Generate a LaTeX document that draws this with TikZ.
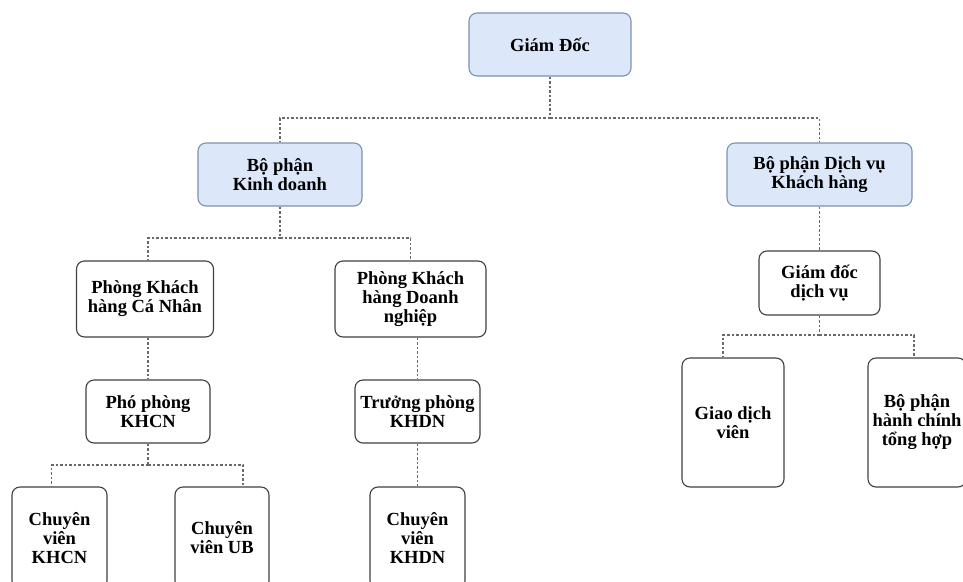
\documentclass[tikz,border=0pt]{standalone}
\usepackage{fontspec}
\setmainfont{Liberation Serif}
\usetikzlibrary{positioning}
\definecolor{headblue}{RGB}{220,232,250}
\definecolor{headline}{RGB}{125,145,175}
\definecolor{linkgray}{RGB}{105,105,105}

\begin{document}
\begin{tikzpicture}[x=1pt,y=-1pt,
  head/.style={rectangle,rounded corners=8pt,draw=headline,fill=headblue,line width=1.1pt,align=center,inner sep=0pt,font=\fontsize{18.5}{19}\selectfont\bfseries},
  unit/.style={rectangle,rounded corners=8pt,draw=black!75,fill=white,line width=1.1pt,align=center,inner sep=0pt,font=\fontsize{18.5}{19}\selectfont\bfseries},
  link/.style={draw=linkgray,line width=1.1pt,dash pattern=on 2.5pt off 2pt}]
  \useasboundingbox (0,0) rectangle (963,581);
  \node[head,minimum width=162pt,minimum height=63pt] (gd) at (550,44.5) {Giám Đốc};
  \node[head,minimum width=164pt,minimum height=63pt] (kd) at (280,174.5) {Bộ phận\\Kinh doanh};
  \node[head,minimum width=185pt,minimum height=63pt] (dv) at (819.5,174.5) {Bộ phận Dịch vụ\\Khách hàng};
  \node[unit,minimum width=121pt,minimum height=64pt] (gddv) at (819.5,283) {Giám đốc\\dịch vụ};
  \node[unit,minimum width=137pt,minimum height=76pt] (kdcn) at (145,299) {Phòng Khách\\hàng Cá Nhân};
  \node[unit,minimum width=151pt,minimum height=76pt] (kddn) at (410.5,299) {Phòng Khách\\hàng Doanh\\nghiệp};
  \node[unit,minimum width=124pt,minimum height=63pt] (ppcn) at (148,411.5) {Phó phòng\\KHCN};
  \node[unit,minimum width=125pt,minimum height=63pt] (tpdn) at (417.5,411.5) {Trưởng phòng\\KHDN};
  \node[unit,minimum width=95pt,minimum height=102pt] (cvcn) at (59.5,538) {Chuyên\\viên\\KHCN};
  \node[unit,minimum width=94pt,minimum height=102pt] (cvub) at (222,538) {Chuyên\\viên UB};
  \node[unit,minimum width=95pt,minimum height=102pt] (cvdn) at (417.5,538) {Chuyên\\viên\\KHDN};
  \node[unit,minimum width=102pt,minimum height=129pt] (gdv) at (733,422.5) {Giao dịch\\viên};
  \node[unit,minimum width=98pt,minimum height=129pt] (hcth) at (917,422.5) {Bộ phận\\hành chính\\tổng hợp};
  % junctions of the dotted buses
  \coordinate (b0) at (550,118); \coordinate (b1) at (280,238); \coordinate (b2) at (148,465); \coordinate (b3) at (819.5,335);
  \draw[link] (gd)--(b0); \draw[link] (b0)-|(kd); \draw[link] (b0)-|(dv);
  \draw[link] (kd)--(b1); \draw[link] (b1)-|(ppcn.north |- kdcn.north); \draw[link] (b1)-|(kddn);
  \draw[link] (ppcn.north |- kdcn.south)--(ppcn.north); \draw[link] (tpdn.north |- kddn.south)--(tpdn.north); \draw[link] (tpdn)--(cvdn);
  \draw[link] (ppcn)--(b2); \draw[link] (b2)-|([xshift=-8pt]cvcn.north); \draw[link] (b2)-|([xshift=21pt]cvub.north);
  \draw[link] (dv)--(gddv); \draw[link] (gddv)--(b3); \draw[link] (b3)-|([xshift=-10pt]gdv.north); \draw[link] (b3)-|([xshift=-3pt]hcth.north);
\end{tikzpicture}
\end{document}
